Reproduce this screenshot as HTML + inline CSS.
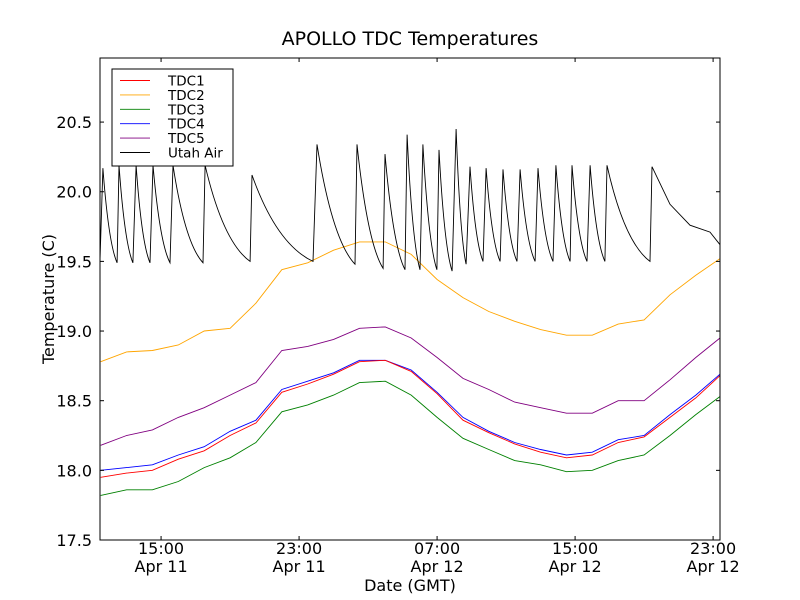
<!DOCTYPE html>
<html><head><meta charset="utf-8"><style>
body{margin:0;background:#fff}
svg{display:block;font-family:"DejaVu Sans","Liberation Sans",sans-serif}
</style></head><body>
<svg id="chart" width="800" height="600">
<rect width="800" height="600" fill="#fff"/>
<text x="410" y="45" font-size="19" text-anchor="middle">APOLLO TDC Temperatures</text>
<text x="410" y="591" font-size="16" text-anchor="middle">Date (GMT)</text>
<text transform="translate(54,299) rotate(-90)" font-size="16" text-anchor="middle">Temperature (C)</text>
<g id="plot"></g>
</svg>
<script>
// hours since Apr 11 00:00 GMT
const sampleHours=[11.5,13,14.5,16,17.5,19,20.5,22,23.5,25,26.5,28,29.5,31,32.5,34,35.5,37,38.5,40,41.5,43,44.5,46,47.4];
const tdc1=[17.95,17.98,18.0,18.08,18.14,18.25,18.34,18.56,18.62,18.69,18.78,18.79,18.71,18.55,18.36,18.27,18.19,18.13,18.09,18.11,18.2,18.24,18.38,18.52,18.68];
const tdc2=[18.78,18.85,18.86,18.9,19.0,19.02,19.2,19.44,19.49,19.58,19.64,19.64,19.55,19.37,19.24,19.14,19.07,19.01,18.97,18.97,19.05,19.08,19.26,19.4,19.52];
const tdc3=[17.82,17.86,17.86,17.92,18.02,18.09,18.2,18.42,18.47,18.54,18.63,18.64,18.54,18.38,18.23,18.15,18.07,18.04,17.99,18.0,18.07,18.11,18.25,18.4,18.53];
const tdc4=[18.0,18.02,18.04,18.11,18.17,18.28,18.36,18.58,18.64,18.7,18.79,18.79,18.72,18.56,18.38,18.28,18.2,18.15,18.11,18.13,18.22,18.25,18.4,18.54,18.69];
const tdc5=[18.18,18.25,18.29,18.38,18.45,18.54,18.63,18.86,18.89,18.94,19.02,19.03,18.95,18.81,18.66,18.58,18.49,18.45,18.41,18.41,18.5,18.5,18.65,18.81,18.95];
const airHours=[11.46,11.63,12.45,12.56,13.37,13.55,14.36,14.53,15.52,15.69,17.43,17.55,20.16,20.27,23.81,24.04,26.24,26.36,27.87,27.98,29.14,29.26,30.01,30.18,30.99,31.11,31.87,32.1,32.68,32.91,33.66,33.84,34.65,34.82,35.63,35.81,36.68,36.85,37.72,37.89,38.71,38.82,39.69,39.87,40.73,40.85,43.34,43.46,44.5,45.66,46.82,47.4];
const airTemp=[19.51,20.17,19.49,20.19,19.49,20.19,19.49,20.19,19.49,20.19,19.49,20.19,19.5,20.12,19.5,20.34,19.48,20.34,19.45,20.27,19.44,20.41,19.44,20.34,19.44,20.3,19.43,20.45,19.48,20.18,19.5,20.17,19.5,20.16,19.5,20.16,19.5,20.17,19.5,20.19,19.5,20.19,19.5,20.19,19.5,20.19,19.5,20.18,19.91,19.76,19.71,19.62];
const yTicks=[17.5,18.0,18.5,19.0,19.5,20.0,20.5];
const xTickHours=[15,23,31,39,47];
const xTickTimes=["15:00","23:00","07:00","15:00","23:00"];
const xTickDates=["Apr 11","Apr 11","Apr 12","Apr 12","Apr 12"];
const seriesNames=["TDC1","TDC2","TDC3","TDC4","TDC5","Utah Air"];
const seriesColors=["red","orange","green","blue","purple","black"];

const L=100,R=720,T=58,B=540;
const X0=11.46,X1=47.4,Y0=17.5,Y1=20.96;
const sx=h=>L+(h-X0)/(X1-X0)*(R-L);
const sy=v=>B-(v-Y0)/(Y1-Y0)*(B-T);
const NS="http://www.w3.org/2000/svg";
const g=document.getElementById('plot');
function mk(tag,attrs){const e=document.createElementNS(NS,tag);for(const k in attrs)e.setAttribute(k,attrs[k]);g.appendChild(e);return e;}

function pathFor(hs,vs,curved){
  let d='M'+sx(hs[0]).toFixed(1)+','+sy(vs[0]).toFixed(1);
  for(let j=1;j<hs.length;j++){
    const x0=sx(hs[j-1]),y0=sy(vs[j-1]),x=sx(hs[j]),y=sy(vs[j]);
    if(curved && vs[j-1]-vs[j]>0.3 && x-x0>3){
      const cx=x0+(x-x0)*0.4,cy=y0+(y-y0)*0.8;
      d+='Q'+cx.toFixed(1)+','+cy.toFixed(1)+' '+x.toFixed(1)+','+y.toFixed(1);
    } else d+='L'+x.toFixed(1)+','+y.toFixed(1);
  }
  return d;
}

const lines=[[sampleHours,tdc2],[sampleHours,tdc5],[sampleHours,tdc3],[sampleHours,tdc4],[sampleHours,tdc1],[airHours,airTemp]];
const lineIdx=[1,4,2,3,0,5];
lines.forEach((s,i)=>{
  const k=lineIdx[i];
  const p=mk('path',{d:pathFor(s[0],s[1],k===5),fill:'none',stroke:seriesColors[k],'stroke-width':0.9});
  
  
});

const frame=mk('rect',{x:L,y:T,width:R-L,height:B-T,fill:'none',stroke:'#000','stroke-width':1});



yTicks.forEach(v=>{
  const y=sy(v);
  mk('line',{x1:L,x2:L+4,y1:y,y2:y,stroke:'#000'});
  mk('line',{x1:R,x2:R-4,y1:y,y2:y,stroke:'#000'});
  const t=mk('text',{x:L-8,y:y+6,'font-size':16,'text-anchor':'end'});
  t.textContent=v.toFixed(1);
  
  
});
xTickHours.forEach((h,i)=>{
  const x=sx(h);
  mk('line',{x1:x,x2:x,y1:B,y2:B-4,stroke:'#000'});
  mk('line',{x1:x,x2:x,y1:T,y2:T+4,stroke:'#000'});
  const t=mk('text',{x:x,y:B+14,'font-size':16,'text-anchor':'middle'});
  t.textContent=xTickTimes[i];
  
  
  const t2=mk('text',{x:x,y:B+32,'font-size':16,'text-anchor':'middle'});
  t2.textContent=xTickDates[i];
  
  
});

const lg=mk('rect',{x:112,y:69,width:121,height:97,fill:'#fff',stroke:'#000'});


seriesNames.forEach((n,i)=>{
  const y=80.5+i*14.4;
  mk('line',{x1:120,x2:150,y1:y,y2:y,stroke:seriesColors[i],'stroke-width':0.9});
  const t=mk('text',{x:168,y:y+5,'font-size':13.5});
  t.textContent=n;
  
  
});
</script>
</body></html>
